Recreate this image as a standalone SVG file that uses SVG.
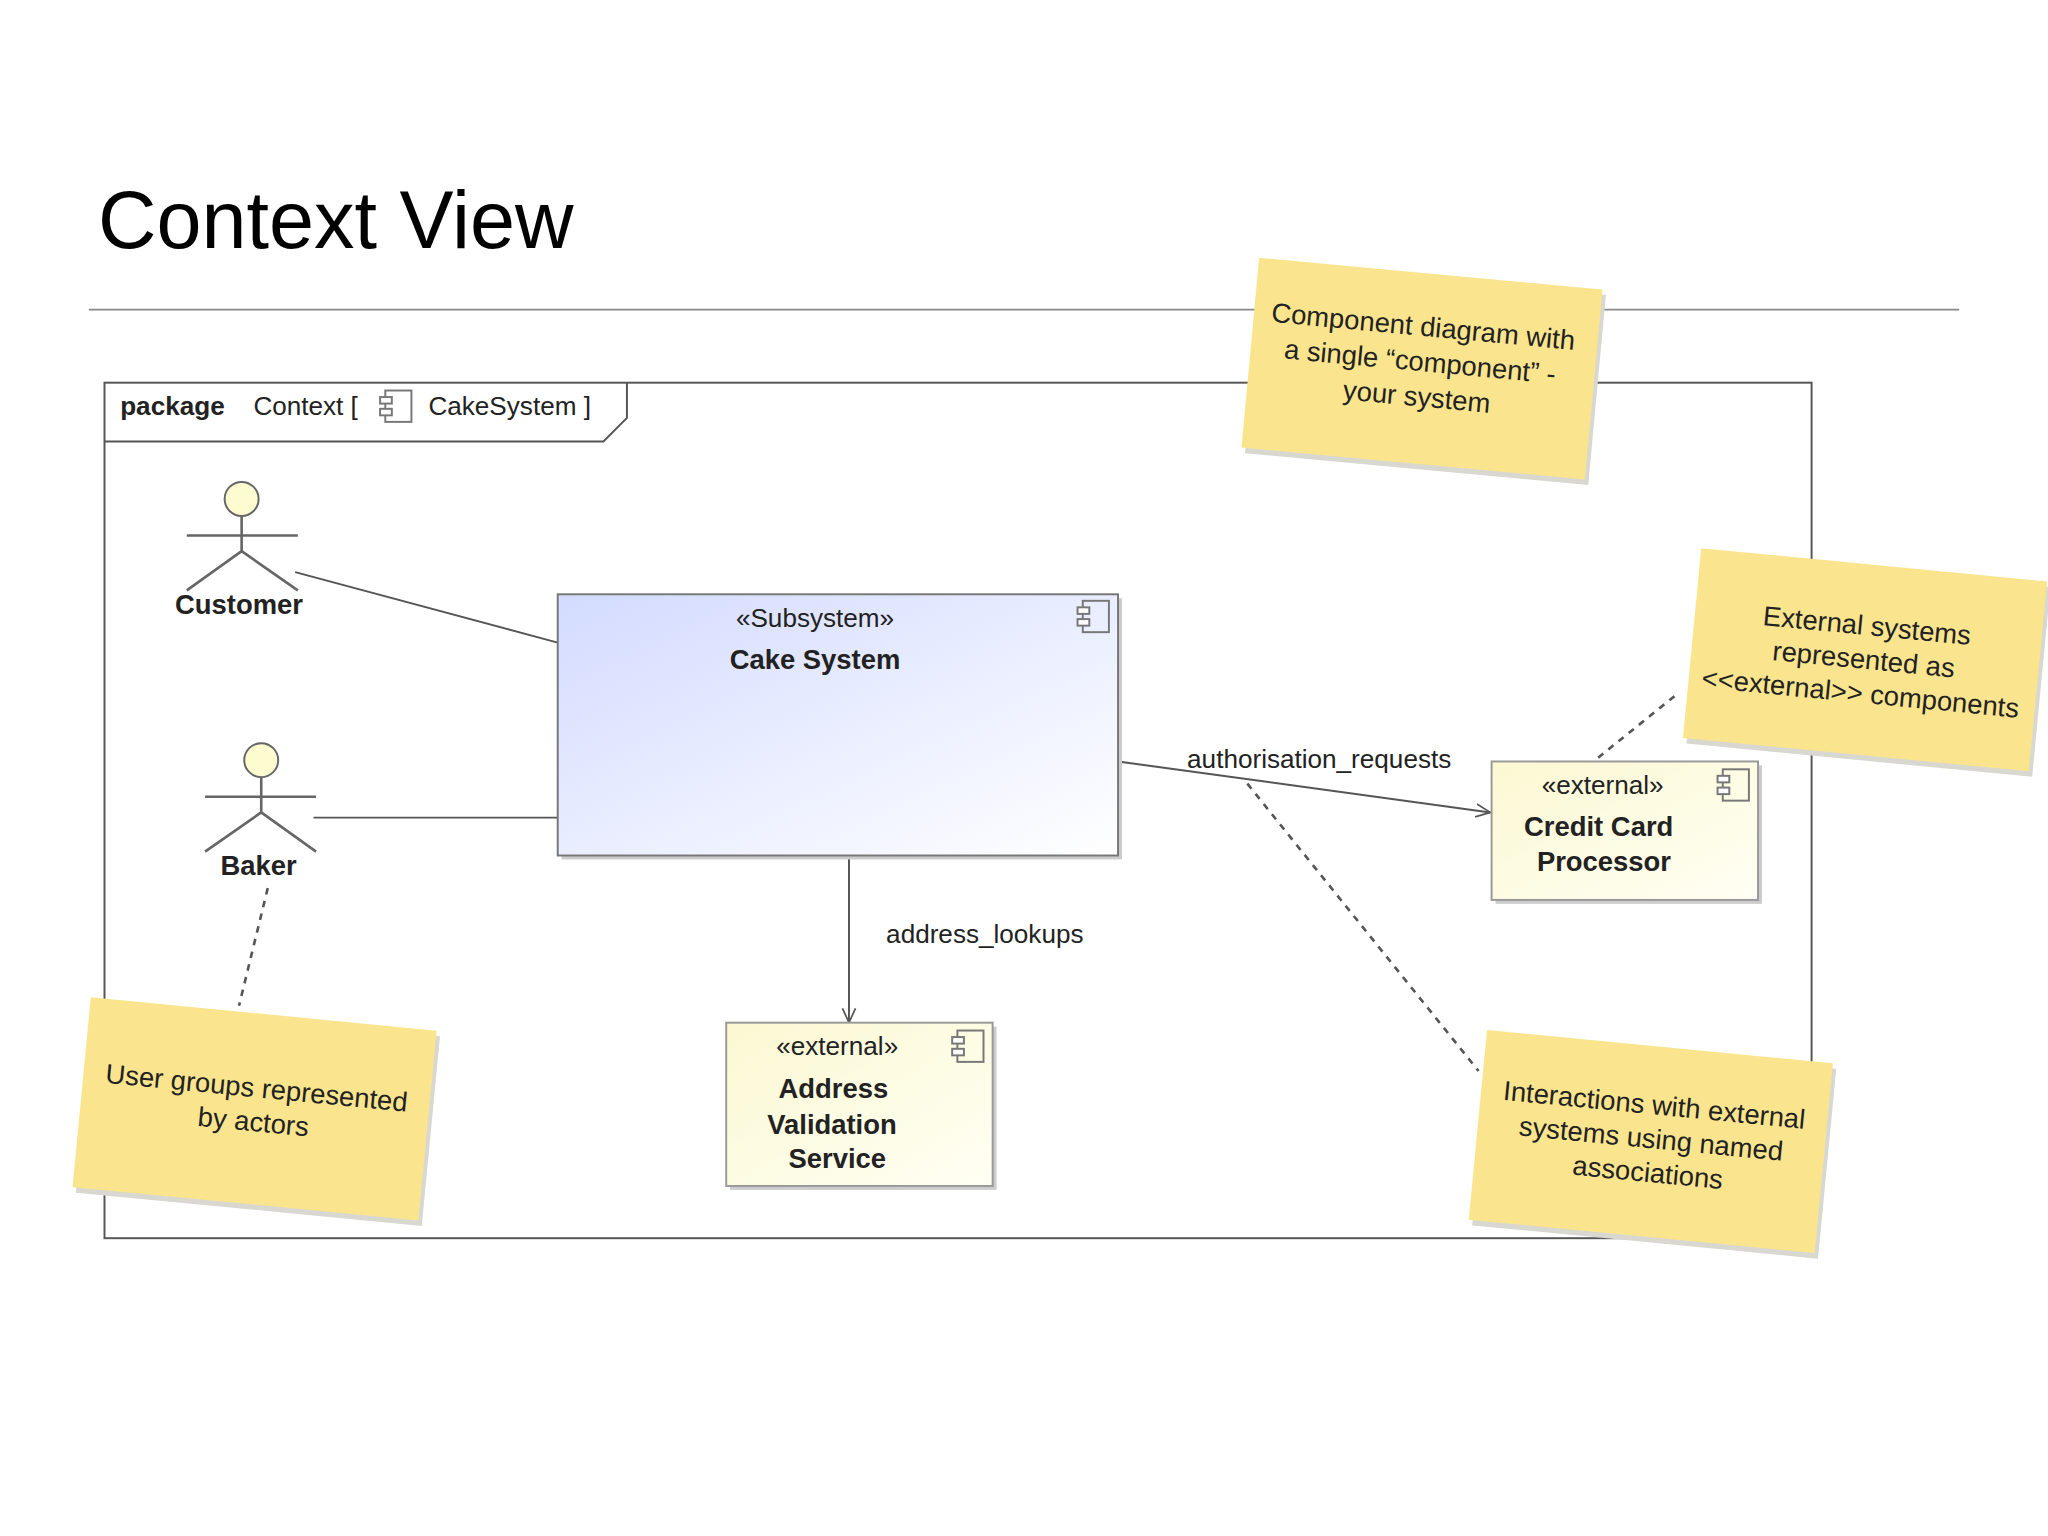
<svg xmlns="http://www.w3.org/2000/svg" width="2048" height="1536" viewBox="0 0 2048 1536">
<defs>
<linearGradient id="blue" x1="0" y1="0" x2="1" y2="1"><stop offset="0" stop-color="#d3dbff"/><stop offset="1" stop-color="#ffffff"/></linearGradient>
<linearGradient id="yel" x1="0" y1="0" x2="1" y2="1"><stop offset="0" stop-color="#fbf8d2"/><stop offset="1" stop-color="#fffff4"/></linearGradient>
<marker id="arr" viewBox="0 0 12 12" refX="11" refY="6" markerWidth="12" markerHeight="12" markerUnits="userSpaceOnUse" orient="auto"><path d="M0,1 L11,6 L0,11" fill="none" stroke="#555" stroke-width="1.3"/></marker>
<g id="icon"><rect x="4" y="0" width="20" height="24" fill="none" stroke="#777" stroke-width="1.5"/><rect x="0" y="5" width="9" height="5" fill="#fff" stroke="#777" stroke-width="1.5"/><rect x="0" y="14" width="9" height="5" fill="#fff" stroke="#777" stroke-width="1.5"/></g>
</defs>
<style>
text{font-family:"Liberation Sans",Arial,sans-serif;fill:#222}
.lbl{font-size:20px}
.b{font-weight:bold;font-size:21px}
.note{font-size:21px;fill:#222}
.ln{stroke:#555;stroke-width:1.5;fill:none}
.dot{stroke:#555;stroke-width:2;stroke-dasharray:5,5;fill:none}
</style>
<rect width="2048" height="1536" fill="#fff"/>
<g transform="scale(1.30612)">
<text x="75" y="190" style="font-size:62px;fill:#000">Context View</text>
<line x1="68" y1="237" x2="1500" y2="237" stroke="#888" stroke-width="1.3"/>
<g id="frame">
<rect x="80" y="293" width="1307" height="655" fill="none" stroke="#555" stroke-width="1.5"/>
<path d="M80,338 H462 L480,320 V293" class="ln"/>
<text x="92" y="318" class="lbl" style="font-weight:bold">package</text>
<text x="194" y="318" class="lbl">Context [</text>
<use href="#icon" x="291" y="299"/>
<text x="328" y="318" class="lbl">CakeSystem ]</text>
</g>
<g id="connectors">
<line x1="226" y1="438" x2="427" y2="492" class="ln"/>
<line x1="240" y1="626" x2="427" y2="626" class="ln"/>
<line x1="856" y1="583" x2="1141" y2="622" class="ln" marker-end="url(#arr)"/>
<line x1="650" y1="655" x2="650" y2="783" class="ln" marker-end="url(#arr)"/>
<text x="1010" y="588" class="lbl" text-anchor="middle">authorisation_requests</text>
<text x="754" y="722" class="lbl" text-anchor="middle">address_lookups</text>
<line x1="205" y1="680" x2="183" y2="770" class="dot"/>
<line x1="1282" y1="533" x2="1220" y2="583" class="dot"/>
<line x1="955" y1="600" x2="1132" y2="820" class="dot"/>
</g>
<g id="customer">
<circle cx="185" cy="382" r="13" fill="#fdfbd0" stroke="#666" stroke-width="1.5"/>
<path d="M185,395 V422 M143,410 H228 M185,422 L143,452 M185,422 L228,452" stroke="#666" stroke-width="2" fill="none"/>
<text x="183" y="470" class="b" text-anchor="middle">Customer</text>
</g>
<g id="baker">
<circle cx="200" cy="582" r="13" fill="#fdfbd0" stroke="#666" stroke-width="1.5"/>
<path d="M200,595 V622 M157,610 H242 M200,622 L157,652 M200,622 L242,652" stroke="#666" stroke-width="2" fill="none"/>
<text x="198" y="670" class="b" text-anchor="middle">Baker</text>
</g>
<g id="cake">
<rect x="430" y="458" width="429" height="200" fill="#ccc"/>
<rect x="427" y="455" width="429" height="200" fill="url(#blue)" stroke="#777" stroke-width="1.5"/>
<use href="#icon" x="825" y="460"/>
<text x="624" y="480" class="lbl" text-anchor="middle">«Subsystem»</text>
<text x="624" y="512" class="b" text-anchor="middle">Cake System</text>
</g>
<g id="ccp">
<rect x="1145" y="586" width="204" height="106" fill="#ccc"/>
<rect x="1142" y="583" width="204" height="106" fill="url(#yel)" stroke="#999" stroke-width="1.5"/>
<use href="#icon" x="1315" y="589"/>
<text x="1227" y="608" class="lbl" text-anchor="middle">«external»</text>
<text x="1224" y="640" class="b" text-anchor="middle">Credit Card</text>
<text x="1228" y="667" class="b" text-anchor="middle">Processor</text>
</g>
<g id="avs">
<rect x="559" y="786" width="204" height="125" fill="#ccc"/>
<rect x="556" y="783" width="204" height="125" fill="url(#yel)" stroke="#999" stroke-width="1.5"/>
<use href="#icon" x="729" y="789"/>
<text x="641" y="808" class="lbl" text-anchor="middle">«external»</text>
<text x="638" y="841" class="b" text-anchor="middle">Address</text>
<text x="637" y="868" class="b" text-anchor="middle">Validation</text>
<text x="641" y="894" class="b" text-anchor="middle">Service</text>
</g>
<g id="note1" transform="translate(1087,279) rotate(5.3)">
<rect x="-130" y="-70" width="264" height="146" fill="#d8d8d0" transform="translate(3,4)"/>
<rect x="-130" y="-70" width="264" height="146" fill="#fae58e"/>
<text class="note" text-anchor="middle" y="-22">Component diagram with</text>
<text class="note" text-anchor="middle" y="5">a single “component” -</text>
<text class="note" text-anchor="middle" y="32">your system</text>
</g>
<g id="note2" transform="translate(1427,504) rotate(5.5)">
<rect x="-132" y="-72" width="266" height="146" fill="#d8d8d0" transform="translate(3,4)"/>
<rect x="-132" y="-72" width="266" height="146" fill="#fae58e"/>
<text class="note" text-anchor="middle" y="-18">External systems</text>
<text class="note" text-anchor="middle" y="8">represented as</text>
<text class="note" text-anchor="middle" y="34">&lt;&lt;external&gt;&gt; components</text>
</g>
<g id="note3" transform="translate(195,848) rotate(5.5)">
<rect x="-133" y="-72" width="266" height="146" fill="#d8d8d0" transform="translate(3,4)"/>
<rect x="-133" y="-72" width="266" height="146" fill="#fae58e"/>
<text class="note" text-anchor="middle" y="-8">User groups represented</text>
<text class="note" text-anchor="middle" y="18">by actors</text>
</g>
<g id="note4" transform="translate(1264,873) rotate(5.5)">
<rect x="-133" y="-72" width="266" height="146" fill="#d8d8d0" transform="translate(3,4)"/>
<rect x="-133" y="-72" width="266" height="146" fill="#fae58e"/>
<text class="note" text-anchor="middle" y="-20">Interactions with external</text>
<text class="note" text-anchor="middle" y="6">systems using named</text>
<text class="note" text-anchor="middle" y="32">associations</text>
</g>
</g>
</svg>
